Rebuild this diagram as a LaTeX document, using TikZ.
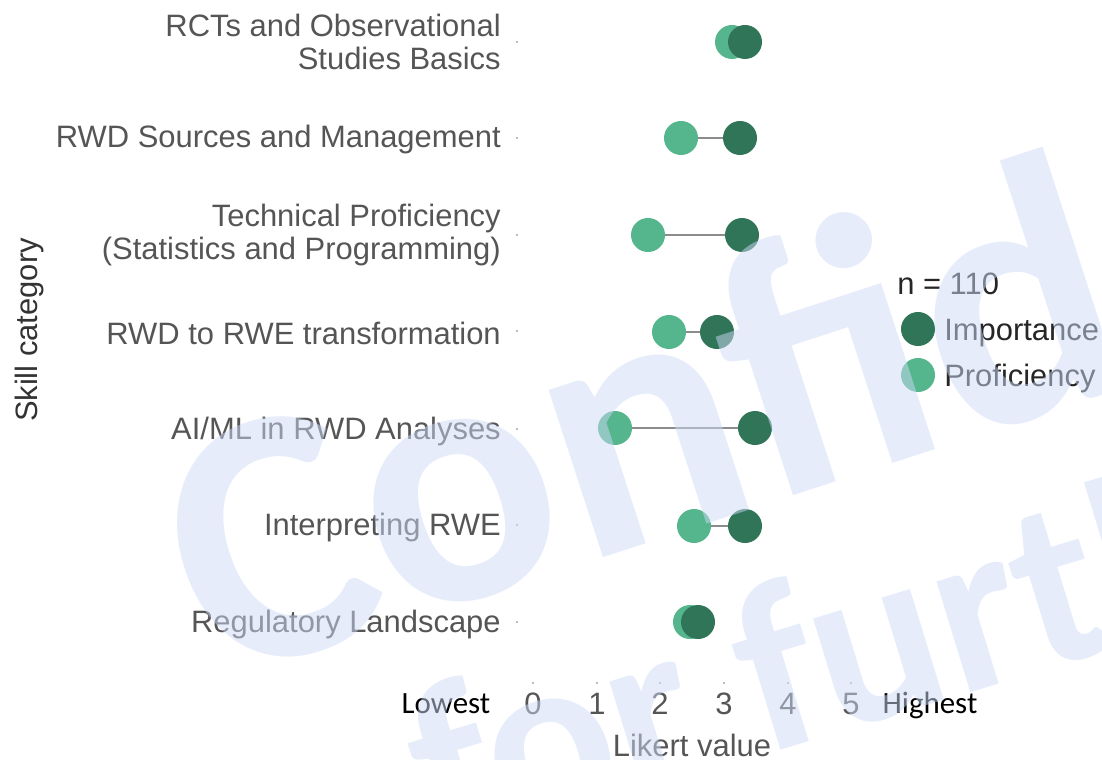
\documentclass[tikz,border=0pt]{standalone}
\usepackage{fontspec}
\setmainfont{Liberation Sans}
\newfontfamily\calibri{Carlito}
\usetikzlibrary{backgrounds}
\definecolor{impgreen}{RGB}{49,117,89}
\definecolor{profgreen}{RGB}{85,181,141}
\definecolor{labelgrey}{RGB}{85,85,85}
\definecolor{wmblue}{RGB}{205,218,246}

\begin{document}
\begin{tikzpicture}[x=0.025cm,y=-0.025cm,
	cat/.style={anchor=east,align=right,inner sep=0pt,text=labelgrey,font=\fontsize{22}{24}\selectfont},
	num/.style={anchor=base,inner sep=0pt,text=labelgrey,font=\fontsize{22}{24}\selectfont},
	ends/.style={anchor=base,inner sep=0pt,font=\calibri\fontsize{22}{24}\selectfont},
	legtext/.style={anchor=base west,inner sep=0pt,text=black!85,font=\fontsize{22}{24}\selectfont},
	dot/.style={circle,inner sep=0pt,minimum size=0.85cm},
	imp/.style={dot,fill=impgreen},
	prof/.style={dot,fill=profgreen},
	link/.style={draw=black!45,line width=0.8pt},
	tick/.style={circle,inner sep=0pt,minimum size=1.5pt,fill=black!35},
	wmark/.style={anchor=base west,inner sep=0pt,text=wmblue,text opacity=0.5}]

	\useasboundingbox (0,0) rectangle (1102,760);

	% category labels
	\node[cat] (c1) at (501,42) {RCTs and Observational\\Studies Basics};
	\node[cat] (c2) at (501,140) {RWD Sources and Management};
	\node[cat] (c3) at (501,235) {Technical Proficiency\\(Statistics and Programming)};
	\node[cat] (c4) at (501,333) {RWD to RWE transformation};
	\node[cat] (c5) at (501,431) {AI/ML in RWD Analyses};
	\node[cat] (c6) at (501,527) {Interpreting RWE};
	\node[cat] (c7) at (501,624) {Regulatory Landscape};

	\node[rotate=90,text=black!80,font=\fontsize{22}{24}\selectfont] (ylab) at (30,330) {Skill category};

	% small ticks
	\node[tick] (t1) at (517,42) {};
	\node[tick] (t2) at (517,138) {};
	\node[tick] (t3) at (517,235) {};
	\node[tick] (t4) at (517,331) {};
	\node[tick] (t5) at (517,429) {};
	\node[tick] (t6) at (517,525) {};
	\node[tick] (t7) at (517,622) {};

	\node[tick] (x0) at (533,683) {};
	\node[tick] (x1) at (597,683) {};
	\node[tick] (x2) at (660,683) {};
	\node[tick] (x3) at (724,683) {};
	\node[tick] (x4) at (788,683) {};
	\node[tick] (x5) at (851,683) {};

	% x axis
	\node[num] (n0) at (533,714) {0};
	\node[num] (n1) at (597,714) {1};
	\node[num] (n2) at (660,714) {2};
	\node[num] (n3) at (724,714) {3};
	\node[num] (n4) at (788,714) {4};
	\node[num] (n5) at (851,714) {5};
	\node[ends] (low) at (446,713) {Lowest};
	\node[ends] (high) at (930,713) {Highest};
	\node[num] (xlab) at (692,756) {Likert value};

	% proficiency
	\node[prof] (p1) at (732,42) {};
	\node[prof] (p2) at (681,138) {};
	\node[prof] (p3) at (648,235) {};
	\node[prof] (p4) at (669,332) {};
	\node[prof] (p5) at (615,428) {};
	\node[prof] (p6) at (694,526) {};
	\node[prof] (p7) at (690,622) {};

	% importance
	\node[imp] (i1) at (745,42) {};
	\node[imp] (i2) at (740,138) {};
	\node[imp] (i3) at (742,235) {};
	\node[imp] (i4) at (717,332) {};
	\node[imp] (i5) at (755,428) {};
	\node[imp] (i6) at (745,526) {};
	\node[imp] (i7) at (698,622) {};

	\begin{pgfonlayer}{background}
		\draw[link] (p1.center) -- (i1.center);
		\draw[link] (p2.center) -- (i2.center);
		\draw[link] (p3.center) -- (i3.center);
		\draw[link] (p4.center) -- (i4.center);
		\draw[link] (p5.center) -- (i5.center);
		\draw[link] (p6.center) -- (i6.center);
		\draw[link] (p7.center) -- (i7.center);
	\end{pgfonlayer}

	% legend
	\node[legtext] (nn) at (897,295) {n = 110};
	\node[imp] (li) at (918,329) {};
	\node[prof] (lp) at (918,375) {};
	\node[legtext] (limp) at (944,341) {Importance};
	\node[legtext] (lprof) at (944,386) {Proficiency};

	% watermark
	\begin{scope}
		\clip (0,0) rectangle (1102,760);
		\node[wmark,rotate=18,font=\calibri\bfseries\fontsize{258}{264}\selectfont] (wm1) at (214,684) {Confid};
		\node[wmark,rotate=17,font=\calibri\bfseries\fontsize{170}{176}\selectfont] (wm2) at (439,855) {for furth};
	\end{scope}

\end{tikzpicture}
\end{document}
